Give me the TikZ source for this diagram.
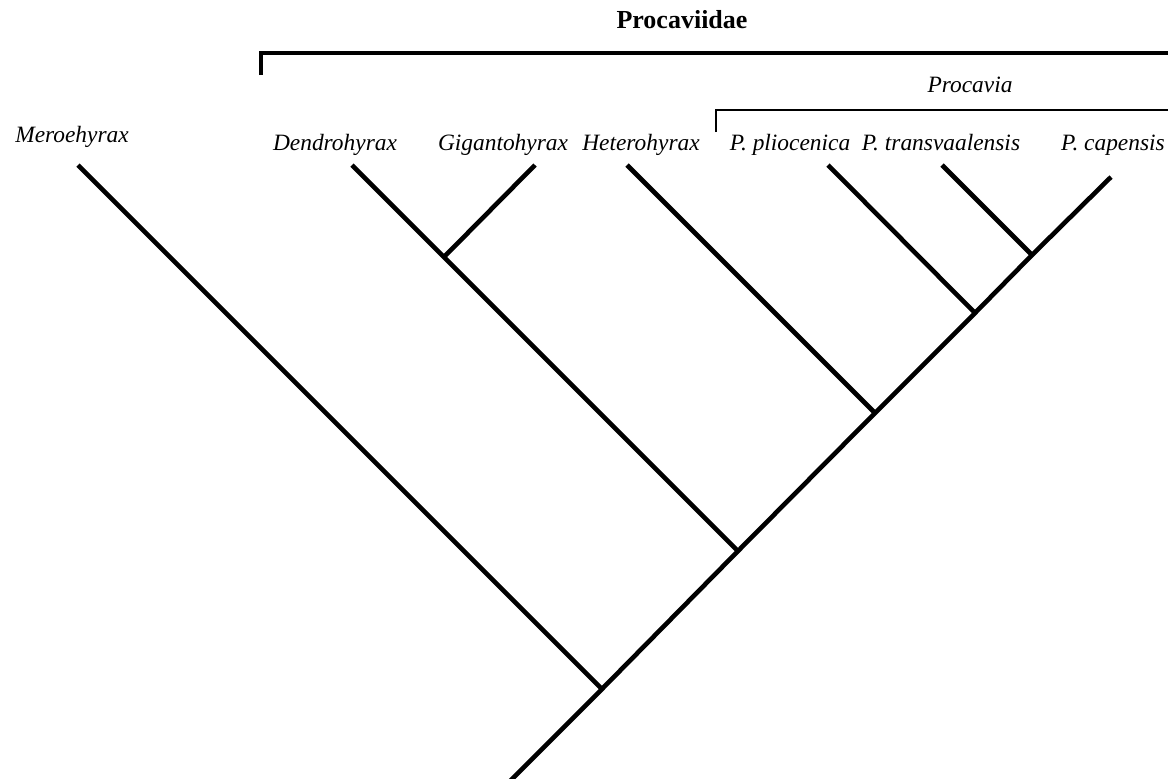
\documentclass[tikz,border=0pt]{standalone}
\usepackage{fontspec}
\setmainfont{Liberation Serif}

\begin{document}
\begin{tikzpicture}[x=0.5pt,y=-0.5pt,
		branch/.style={line width=2.3pt},
		taxon/.style={font=\fontsize{11.7}{14}\selectfont\itshape, anchor=base, inner sep=0pt},
		clade/.style={font=\fontsize{13}{16}\selectfont\bfseries, anchor=base, inner sep=0pt}]
		\useasboundingbox (0,0) rectangle (1168,778);

		%Taksa
		\node[taxon] (mero) at (72,142) {Meroehyrax};
		\node[taxon] (dendro) at (335,150) {Dendrohyrax};
		\node[taxon] (giga) at (503,150) {Gigantohyrax};
		\node[taxon] (hetero) at (641,150) {Heterohyrax};
		\node[taxon] (plio) at (790,150) {P. pliocenica};
		\node[taxon] (trans) at (941,150) {P. transvaalensis};
		\node[taxon] (cap) at (1113,150) {P. capensis};

		%Forgreininger
		\coordinate (root) at (480,811);
		\coordinate (n1) at (602,689);
		\coordinate (n2) at (738,551);
		\coordinate (n3) at (444,257);
		\coordinate (n4) at (875,413);
		\coordinate (n5) at (975,313);
		\coordinate (n6) at (1032,255);

		%Endepunkter
		\coordinate (tmero) at (78,165);
		\coordinate (tdendro) at (352,165);
		\coordinate (tgiga) at (535,165);
		\coordinate (thetero) at (627,165);
		\coordinate (tplio) at (828,165);
		\coordinate (ttrans) at (942,165);
		\coordinate (tcap) at (1111,177);

		\draw[branch] (root) -- (n1) -- (n2) -- (n4) -- (n5) -- (n6) -- (tcap);
		\draw[branch] (n1) -- (tmero);
		\draw[branch] (n2) -- (n3) -- (tdendro);
		\draw[branch] (n3) -- (tgiga);
		\draw[branch] (n4) -- (thetero);
		\draw[branch] (n5) -- (tplio);
		\draw[branch] (n6) -- (ttrans);

		%Klammer Procaviidae
		\coordinate (fam0) at (261,75);
		\coordinate (fam1) at (261,53);
		\coordinate (fam2) at (1175,53);
		\draw[line width=2pt] (fam0) -- (fam1) -- (fam2);
		\node[clade] (procaviidae) at (682,28) {Procaviidae};

		%Klammer Procavia
		\coordinate (gen0) at (716,132);
		\coordinate (gen1) at (716,110);
		\coordinate (gen2) at (1175,110);
		\draw[line width=0.7pt] (gen0) -- (gen1) -- (gen2);
		\node[taxon] (procavia) at (970,92) {Procavia};
	\end{tikzpicture}
\end{document}
